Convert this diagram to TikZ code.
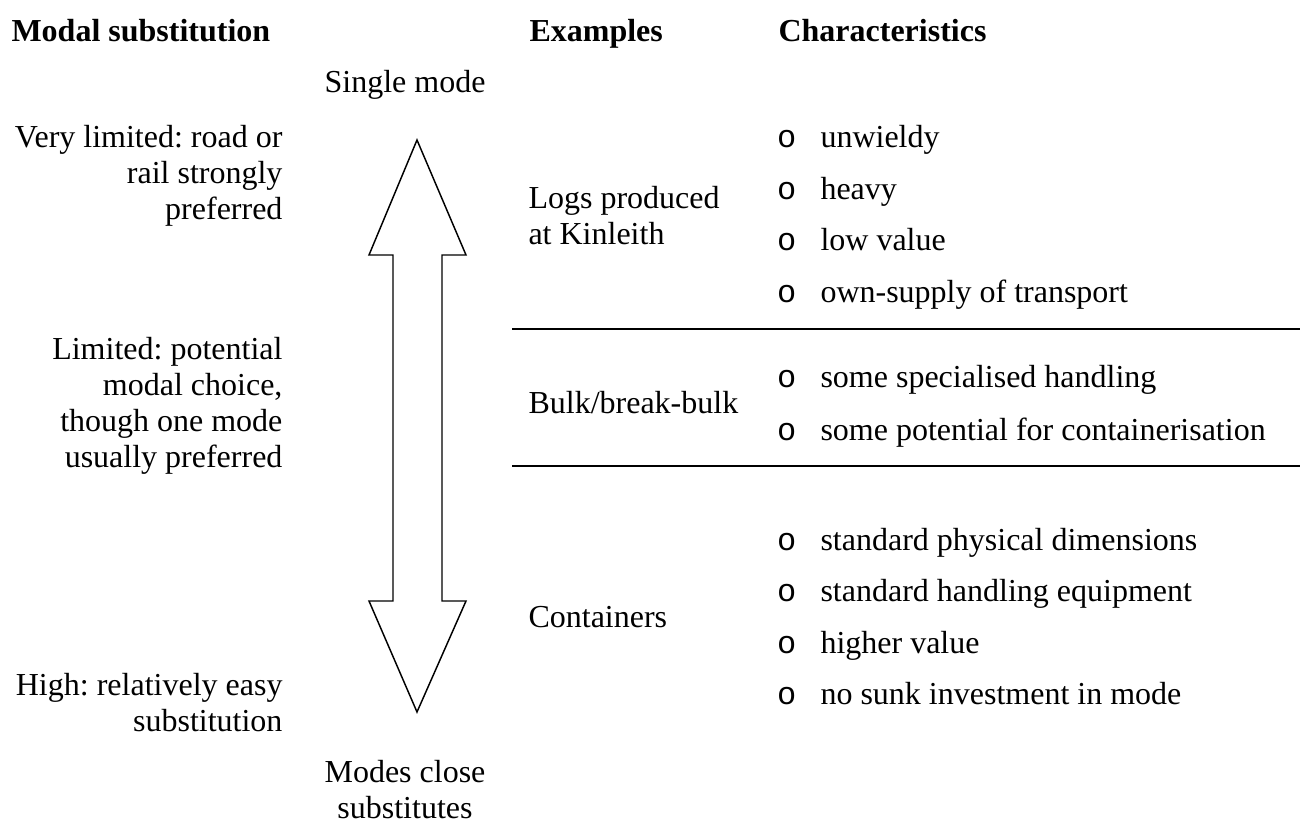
\documentclass[tikz,border=0pt]{standalone}
\usepackage{fontspec}
\setmainfont{Liberation Serif}
\newfontfamily\bulletfont{Liberation Mono}
\usepackage{tikz}
\frenchspacing

% bullet in front of a characteristic
\newcommand{\bul}[1]{\makebox[16.3pt][l]{\bulletfont o}#1}

\begin{document}
\begin{tikzpicture}[x=0.375pt,y=-0.375pt,
		every node/.style={inner sep=0pt,font=\fontsize{12pt}{13.5pt}\selectfont},
		head/.style={anchor=base west,font=\fontsize{12pt}{13.5pt}\selectfont\bfseries},
		level/.style={anchor=north east,align=right},
		example/.style={anchor=north west,align=left},
		charac/.style={anchor=base west}]
		\useasboundingbox (0,0) rectangle (1300,823);
		% column heads
		\node [head] (hmodal) at (11,42) {Modal substitution};
		\node [head] (hexam) at (529,42) {Examples};
		\node [head] (hchar) at (778,42) {Characteristics};
		% the double arrow
		\draw [line width=0.55pt,line join=miter]
		(417,140) -- (466,255) -- (442,255) -- (442,601) -- (466,601)
		-- (417,712) -- (369,601) -- (393,601) -- (393,255) -- (369,255) -- cycle;
		\node [anchor=base] (top) at (405,93) {Single mode};
		\node [anchor=north,align=center] (bottom) at (405,760) {Modes close\\substitutes};
		% degree of substitution
		\node [level] (vlim) at (283,125) {Very limited: road or\\rail strongly\\preferred};
		\node [level] (lim) at (283,337) {Limited: potential\\modal choice,\\though one mode\\usually preferred};
		\node [level] (high) at (283,673) {High: relatively easy\\substitution};
		% examples
		\node [example] (logs) at (528,186) {Logs produced\\at Kinleith};
		\node [anchor=base west] (bulk) at (528,414) {Bulk/break-bulk};
		\node [anchor=base west] (cont) at (528,627) {Containers};
		% characteristics
		\node [charac] (c1) at (776.5,148) {\bul{unwieldy}};
		\node [charac] (c2) at (776.5,200) {\bul{heavy}};
		\node [charac] (c3) at (776.5,251) {\bul{low value}};
		\node [charac] (c4) at (776.5,303) {\bul{own-supply of transport}};
		\node [charac] (c5) at (776.5,388) {\bul{some specialised handling}};
		\node [charac] (c6) at (776.5,440) {\bul{some potential for containerisation}};
		\node [charac] (c7) at (776.5,550) {\bul{standard physical dimensions}};
		\node [charac] (c8) at (776.5,601) {\bul{standard handling equipment}};
		\node [charac] (c9) at (776.5,653) {\bul{higher value}};
		\node [charac] (c10) at (776.5,704) {\bul{no sunk investment in mode}};
		% row rules
		\draw [line width=0.75pt]
		(512,329) -- (1300,329)
		(512,466) -- (1300,466);
	\end{tikzpicture}
\end{document}
